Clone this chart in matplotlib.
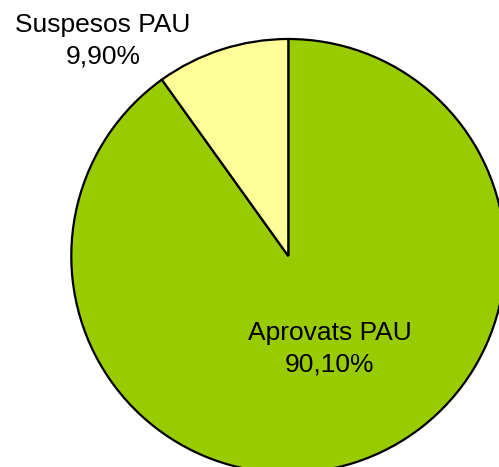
import matplotlib
matplotlib.use("Agg")
import matplotlib.pyplot as plt

categories = ["Aprovats PAU", "Suspesos PAU"]
values = [90.10, 9.90]
value_labels = ["90,10%", "9,90%"]
colors = ["#99CC00", "#FFFF99"]

plt.rcParams['font.family'] = ['Liberation Sans', 'DejaVu Sans']

W, H = 499, 467
fig = plt.figure(figsize=(W / 100, H / 100), dpi=100)
ax = fig.add_axes([0, 0, 1, 1])
ax.axis('off')

cx, cy, r = 288.3, 256.0, 217.0
ax.pie(values, colors=colors, startangle=90, counterclock=False, radius=1,
       wedgeprops=dict(edgecolor='black', linewidth=1.6))
ax.set_aspect('auto')
ax.set_xlim((0 - cx) / r, (W - cx) / r)
ax.set_ylim(-(H - cy) / r, cy / r)

label_pos = [((329.5 - cx) / r, (cy - 348.5) / r), ((103 - cx) / r, (cy - 41) / r)]
for cat, vl, (x, y) in zip(categories, value_labels, label_pos):
    ax.text(x, y, f"{cat}\n{vl}", ha='center', va='center', fontsize=19,
            linespacing=1.4, color='black')

fig.savefig("out.png", dpi=100)
